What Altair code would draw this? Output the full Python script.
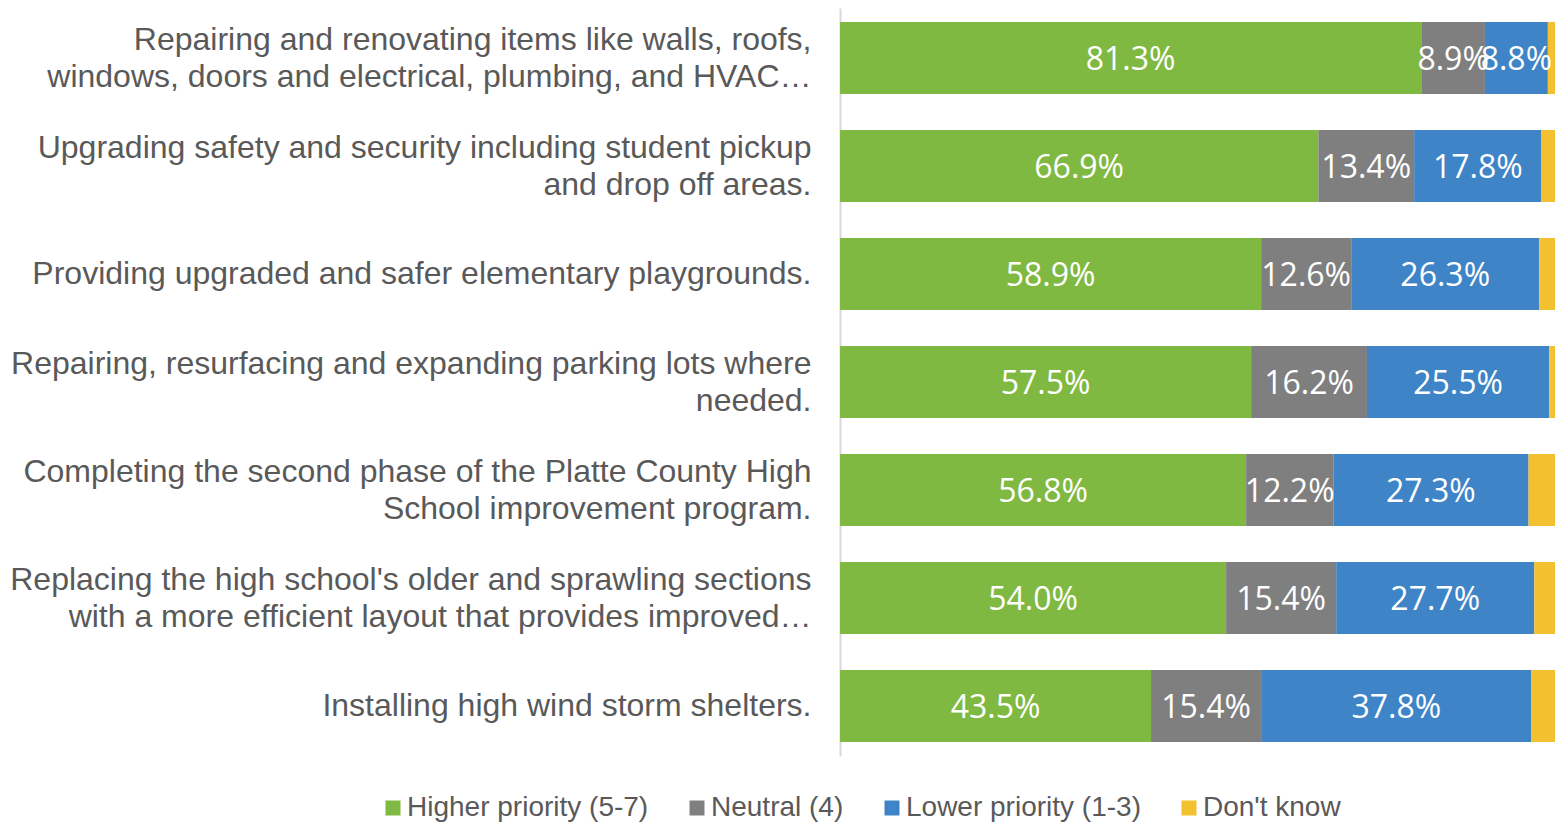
import altair as alt
import pandas as pd

categories = [
    "Repairing and renovating items like walls, roofs,\nwindows, doors and electrical, plumbing, and HVAC…",
    "Upgrading safety and security including student pickup\nand drop off areas.",
    "Providing upgraded and safer elementary playgrounds.",
    "Repairing, resurfacing and expanding parking lots where\nneeded.",
    "Completing the second phase of the Platte County High\nSchool improvement program.",
    "Replacing the high school's older and sprawling sections\nwith a more efficient layout that provides improved…",
    "Installing high wind storm shelters.",
]
series = ["Higher priority (5-7)", "Neutral (4)", "Lower priority (1-3)", "Don't know"]
higher = [81.3, 66.9, 58.9, 57.5, 56.8, 54.0, 43.5]
neutral = [8.9, 13.4, 12.6, 16.2, 12.2, 15.4, 15.4]
lower = [8.8, 17.8, 26.3, 25.5, 27.3, 27.7, 37.8]
dont_know = [1.0, 1.9, 2.2, 0.8, 3.7, 2.9, 3.3]
colors = ["#80B941", "#7F7F7F", "#3E84C6", "#F3C12F"]

rows = []
for i, cat in enumerate(categories):
    for j, (s, vals) in enumerate(zip(series, [higher, neutral, lower, dont_know])):
        rows.append({"category": cat, "series": s, "value": vals[i], "order": j,
                     "label": f"{vals[i]:.1f}%"})
df = pd.DataFrame(rows)

y_enc = alt.Y(
    "category:N", sort=categories, title=None,
    scale=alt.Scale(paddingInner=0.333, paddingOuter=0.13),
    axis=alt.Axis(
        labelExpr="split(datum.label, '\\n')",
        labelFont="Liberation Sans", labelFontSize=32, labelColor="#595959",
        labelLineHeight=37, labelLimit=1000, labelPadding=29, ticks=False,
        labelOffset={"condition": {"test": "indexof(datum.label, '\\n') >= 0", "value": -18},
                     "value": 0},
        domain=True, domainColor="#D9D9D9", domainWidth=2, grid=False,
        labelAlign="right", labelBaseline="middle",
    ),
)

bars = alt.Chart(df).mark_bar().encode(
    y=y_enc,
    x=alt.X("value:Q", stack="zero", scale=alt.Scale(domain=[0, 100], nice=False), axis=None),
    color=alt.Color(
        "series:N", sort=series,
        scale=alt.Scale(domain=series, range=colors),
        legend=alt.Legend(
            title=None, orient="none", direction="horizontal",
            legendX=-461, legendY=786,
            symbolType="square", symbolSize=225, symbolStrokeWidth=0,
            labelFont="Liberation Sans", labelFontSize=28, labelColor="#595959",
            labelOffset=0, columnPadding=34, labelLimit=400,
        ),
    ),
    order=alt.Order("order:Q"),
)

labels = alt.Chart(df).transform_stack(
    stack="value", groupby=["category"], as_=["x0", "x1"],
    sort=[alt.SortField("order", order="ascending")],
).transform_calculate(
    mid="(datum.x0 + datum.x1) / 2"
).transform_filter(
    "datum.series != \"Don't know\""
).mark_text(
    color="white", font="Open Sans", fontSize=32, align="center", baseline="middle", dy=2
).encode(
    y=alt.Y("category:N", sort=categories),
    x=alt.X("mid:Q", scale=alt.Scale(domain=[0, 100], nice=False)),
    text="label:N",
)

chart = alt.layer(bars, labels).properties(
    width=715, height=748,
    autosize=alt.AutoSizeParams(type="none"),
    padding={"left": 832, "top": 0, "right": 0, "bottom": 67},
).configure_view(stroke=None)

chart.save("out.html", embed_options={"renderer": "svg", "actions": False})
